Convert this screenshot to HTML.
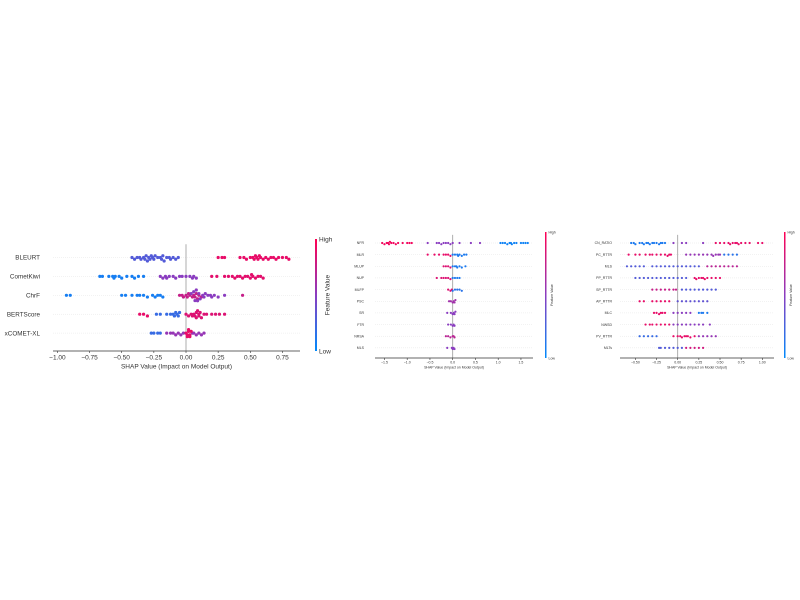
<!DOCTYPE html>
<html><head><meta charset="utf-8"><style>
html,body{margin:0;padding:0;background:#fff}
svg{display:block;font-family:"Liberation Sans","DejaVu Sans",sans-serif}
</style></head><body>
<svg id="chart" width="800" height="600" viewBox="0 0 800 600" xmlns="http://www.w3.org/2000/svg">
<defs><linearGradient id="cb" x1="0" y1="1" x2="0" y2="0"><stop offset="0" stop-color="#008afb"/><stop offset="0.5" stop-color="#8a3cc0"/><stop offset="1" stop-color="#ff0052"/></linearGradient></defs>
</svg>
<script>
// ---------- data ----------
const p1Features = ["BLEURT","CometKiwi","ChrF","BERTScore","xCOMET-XL"];
const p1Ticks = [-1.00,-0.75,-0.50,-0.25,0.00,0.25,0.50,0.75];
const p1Groups = [
 [{f:0.3,v:[-0.42,-0.4,-0.38,-0.36,-0.35,-0.33,-0.32,-0.31,-0.3,-0.29,-0.28,-0.27,-0.26,-0.25,-0.24,-0.22,-0.2,-0.19,-0.18,-0.17,-0.15,-0.13,-0.12,-0.1,-0.08,-0.06]},
  {f:0.9,v:[0.25,0.28,0.3,0.42,0.45,0.47,0.5,0.52,0.53,0.54,0.55,0.56,0.57,0.58,0.6,0.62,0.64,0.66,0.68,0.7,0.72,0.75,0.78,0.8]}],
 [{f:0.08,v:[-0.67,-0.65,-0.6,-0.57,-0.56,-0.55,-0.52,-0.5,-0.46,-0.42,-0.4,-0.37,-0.33]},
  {f:0.5,v:[-0.2,-0.18,-0.16,-0.15,-0.13,-0.1,-0.08,-0.05,-0.03,0,0.03,0.05,0.06,0.08]},
  {f:0.88,v:[0.2,0.24,0.3,0.33,0.36,0.38,0.4,0.42,0.44,0.46,0.48,0.5,0.51,0.52,0.54,0.56,0.58,0.6]}],
 [{f:0.08,v:[-0.93,-0.9,-0.5,-0.47,-0.42,-0.38,-0.36,-0.33,-0.3,-0.26,-0.24,-0.22,-0.2,-0.18]},
  {f:0.75,v:[-0.05,-0.03,-0.02,0,0.01,0.02,0.03,0.05,0.06,0.07,0.08,0.09,0.1,0.12,0.44]},
  {f:0.5,v:[0.04,0.06,0.07,0.08,0.09,0.1,0.11,0.13,0.14,0.15,0.17,0.19,0.2,0.22,0.25,0.3]}],
 [{f:0.9,v:[-0.36,-0.33,-0.3]},
  {f:0.2,v:[-0.23,-0.2,-0.15,-0.12,-0.1,-0.09,-0.08,-0.07,-0.06,-0.05]},
  {f:0.85,v:[0,0.02,0.04,0.05,0.06,0.07,0.08,0.08,0.09,0.1,0.1,0.11,0.12,0.14,0.16,0.2,0.23,0.26,0.3]}],
 [{f:0.2,v:[-0.27,-0.25,-0.22,-0.2]},
  {f:0.55,v:[-0.15,-0.12,-0.1,-0.08,-0.06,-0.04,-0.02,0.05,0.06,0.08,0.1,0.12,0.14]},
  {f:0.9,v:[0,0.01,0.02,0.03,0.04,0.01,0.02,0.03]}]
];
const p2Features = ["NFR","MLR","MLUP","NUP","MLFP","PSC","SR","FTR","NRSA","MLS"];
const p2Ticks = [-1.5,-1.0,-0.5,0.0,0.5,1.0,1.5];
const p2Groups = [
 [{f:0.95,v:[-1.55,-1.5,-1.45,-1.42,-1.4,-1.38,-1.35,-1.3,-1.25,-1.2,-1.1,-1.0,-0.95,-0.9]},
  {f:0.5,v:[-0.55,-0.35,-0.3,-0.25,-0.2,-0.15,-0.1,-0.05,0,0.15,0.4,0.6]},
  {f:0.05,v:[1.05,1.1,1.15,1.2,1.25,1.28,1.3,1.35,1.4,1.5,1.55,1.6,1.65]}],
 [{f:0.9,v:[-0.55,-0.4,-0.3,-0.2,-0.15,-0.1,-0.05]},{f:0.1,v:[0,0.05,0.1,0.12,0.15,0.2,0.25,0.3]}],
 [{f:0.85,v:[-0.2,-0.15,-0.1,-0.05]},{f:0.1,v:[0,0.05,0.08,0.1,0.15,0.2,0.28]}],
 [{f:0.85,v:[-0.35,-0.25,-0.2,-0.15,-0.1,-0.05]},{f:0.1,v:[0,0.05,0.1,0.15]}],
 [{f:0.85,v:[-0.1,-0.05,-0.02]},{f:0.15,v:[0,0.05,0.1,0.15,0.2]}],
 [{f:0.6,v:[-0.08,-0.04,0,0.02,0.04,0.06]}],
 [{f:0.5,v:[-0.12,-0.04,0,0.02,0.04,0.06]}],
 [{f:0.5,v:[-0.1,-0.04,0,0.02,0.04]}],
 [{f:0.7,v:[-0.15,-0.1,-0.05,0,0.02,0.04]}],
 [{f:0.5,v:[-0.12,-0.02,0,0.02,0.04]}]
];
const p3Features = ["CN_RATIO","PC_RTTR","MLS","PP_RTTR","SP_RTTR","AP_RTTR","MLC","NWSD","PV_RTTR","MLTs"];
const p3Ticks = [-0.50,-0.25,0.00,0.25,0.50,0.75,1.00];
const p3Groups = [
 [{f:0.1,v:[-0.55,-0.52,-0.5,-0.45,-0.42,-0.4,-0.37,-0.35,-0.33,-0.3,-0.28,-0.25,-0.22,-0.2,-0.18,-0.15]},
  {f:0.5,v:[-0.05,0.05,0.1,0.3]},
  {f:0.9,v:[0.45,0.5,0.55,0.6,0.62,0.65,0.68,0.7,0.72,0.75,0.8,0.85,0.95,1.0]}],
 [{f:0.9,v:[-0.58,-0.5,-0.45,-0.38,-0.33,-0.3,-0.25,-0.2,-0.15,-0.12,-0.1,-0.08]},
  {f:0.55,v:[0.1,0.15,0.2,0.25,0.3,0.35,0.4,0.42,0.45,0.48,0.5]},{f:0.15,v:[0.55,0.6,0.65,0.7]}],
 [{f:0.3,v:[-0.6,-0.55,-0.5,-0.45,-0.4,-0.3,-0.25,-0.2,-0.15,-0.1,-0.05,0,0.05,0.1,0.15,0.2,0.25]},
  {f:0.7,v:[0.35,0.4,0.45,0.5,0.55,0.6,0.65,0.7]}],
 [{f:0.3,v:[-0.5,-0.45,-0.4,-0.35,-0.3,-0.25,-0.2,-0.15,-0.1,-0.05,0,0.05,0.1]},
  {f:0.9,v:[0.2,0.22,0.25,0.28,0.3,0.32,0.35,0.4,0.45,0.5]}],
 [{f:0.75,v:[-0.3,-0.25,-0.2,-0.15,-0.1,-0.05,-0.02]},{f:0.3,v:[0.05,0.1,0.15,0.2,0.25,0.3,0.35,0.4,0.45]}],
 [{f:0.9,v:[-0.45,-0.4,-0.3,-0.25,-0.2,-0.15,-0.1]},{f:0.35,v:[0,0.05,0.1,0.15,0.2,0.25,0.3,0.35]}],
 [{f:0.9,v:[-0.28,-0.25,-0.22,-0.2,-0.18,-0.15]},{f:0.5,v:[-0.05,0,0.05,0.1,0.15]},{f:0.1,v:[0.25,0.28,0.3,0.35]}],
 [{f:0.9,v:[-0.38,-0.33,-0.3,-0.25,-0.2,-0.15,-0.1]},{f:0.5,v:[-0.05,0,0.05,0.1,0.15,0.2,0.25,0.3,0.38]}],
 [{f:0.2,v:[-0.45,-0.4,-0.35,-0.3,-0.25]},{f:0.9,v:[-0.05,0,0.03,0.05,0.08,0.1,0.12,0.15,0.2]},{f:0.55,v:[0.25,0.3,0.35,0.4,0.45]}],
 [{f:0.3,v:[-0.22,-0.2,-0.15,-0.1,-0.05,0,0.05]},{f:0.8,v:[0.1,0.15,0.2,0.25,0.3]}]
];
// ---------- drawing ----------
const NS="http://www.w3.org/2000/svg", svg=document.getElementById("chart");
function mk(tag,attrs,parent){const e=document.createElementNS(NS,tag);for(const k in attrs)e.setAttribute(k,attrs[k]);(parent||svg).appendChild(e);return e;}
function col(f){const a=[0,138,251],m=[138,60,192],b=[255,0,82];let c;
 if(f<0.5){const t=f/0.5;c=a.map((x,i)=>x+(m[i]-x)*t);}else{const t=(f-0.5)/0.5;c=m.map((x,i)=>x+(b[i]-x)*t);}
 return `rgb(${c.map(Math.round).join(",")})`;}
function panel(cfg){
 const g=mk("g",{});
 
 
 const xs=v=>cfg.x0+v*cfg.k;
 const ry=i=>cfg.y0+i*cfg.dy;
 cfg.features.forEach((n,i)=>{
  const gl=mk("line",{x1:cfg.ax1,x2:cfg.ax2,y1:ry(i),y2:ry(i),stroke:"#e4e4e4","stroke-width":0.5,"stroke-dasharray":"1,1"},g);
  
  
  const t=mk("text",{x:cfg.lx,y:ry(i)+cfg.fs*0.35,"font-size":cfg.fs,"text-anchor":"end",fill:"#333"},g);t.textContent=n;
  
  
 });
 const zl=mk("line",{x1:xs(0),x2:xs(0),y1:cfg.y0-cfg.dy*0.7,y2:cfg.axy,stroke:"#999","stroke-width":0.8},g);
 
 
 cfg.groups.forEach((row,i)=>{
  const bins={};
  row.forEach(grp=>grp.v.forEach(v=>{
   const b=Math.round(xs(v)/(cfg.r*cfg.bw));const n=bins[b]||0;bins[b]=n+1;
   let off=Math.ceil(n/2)*cfg.r*1.1*(n%2?1:-1);
   if(Math.abs(off)>cfg.maxOff)off=(off>0?1:-1)*cfg.maxOff;
   const c=mk("circle",{cx:xs(v),cy:ry(i)+off,r:cfg.r,fill:col(grp.f)},g);
   
   
  }));
 });
 const ax=mk("line",{x1:cfg.ax1,x2:cfg.ax2,y1:cfg.axy,y2:cfg.axy,stroke:"#333","stroke-width":0.7},g);
 
 
 cfg.ticks.forEach(v=>{
  mk("line",{x1:xs(v),x2:xs(v),y1:cfg.axy,y2:cfg.axy+2,stroke:"#333","stroke-width":0.6},g);
  const t=mk("text",{x:xs(v),y:cfg.axy+2+cfg.tfs,"font-size":cfg.tfs,"text-anchor":"middle",fill:"#333"},g);
  t.textContent=(v<0?"\u2212":"")+Math.abs(v).toFixed(cfg.dec);
  
  
 });
 const xl=mk("text",{x:(cfg.ax1+cfg.ax2)/2,y:cfg.axy+3+cfg.tfs*2.2,"font-size":cfg.tfs,"text-anchor":"middle",fill:"#333"},g);
 xl.textContent="SHAP Value (Impact on Model Output)";
 
 
 const cb=mk("rect",{x:cfg.cbx,y:cfg.cby1,width:cfg.cbw,height:cfg.cby2-cfg.cby1,fill:"url(#cb)"},g);
 
 
 const hi=mk("text",{x:cfg.cbx+cfg.cbw+2,y:cfg.cby1+cfg.tfs*0.4,"font-size":cfg.tfs,fill:"#333"},g);hi.textContent="High";
 
 
 const lo=mk("text",{x:cfg.cbx+cfg.cbw+2,y:cfg.cby2+cfg.tfs*0.4,"font-size":cfg.tfs,fill:"#333"},g);lo.textContent="Low";
 
 
 const cx=cfg.cbx+cfg.cbw+cfg.tfs*1.9, cy=(cfg.cby1+cfg.cby2)/2;
 const ft=mk("text",{x:cx,y:cy,"font-size":cfg.tfs,"text-anchor":"middle",fill:"#333",transform:`rotate(-90 ${cx} ${cy})`},g);
 ft.textContent="Feature Value";
 
 
}
panel({name:"panel-metrics",features:p1Features,groups:p1Groups,ticks:p1Ticks,dec:2,x0:186,k:128.6,y0:257.5,dy:18.9,
 ax1:53,ax2:300,axy:351,lx:40,fs:6.3,tfs:6.5,r:1.6,bw:2.6,maxOff:5.5,cbx:315,cbw:2,cby1:239,cby2:351});
panel({name:"panel-features-a",features:p2Features,groups:p2Groups,ticks:p2Ticks,dec:1,x0:452.7,k:45.5,y0:243,dy:11.65,
 ax1:375,ax2:533,axy:358,lx:364,fs:3.5,tfs:3.5,r:1.1,bw:2.6,maxOff:3.8,cbx:545,cbw:1.5,cby1:232,cby2:358});
panel({name:"panel-features-b",features:p3Features,groups:p3Groups,ticks:p3Ticks,dec:2,x0:677.7,k:84.6,y0:243,dy:11.65,
 ax1:620,ax2:774,axy:358,lx:612,fs:3.5,tfs:3.5,r:1.1,bw:2.6,maxOff:3.8,cbx:784,cbw:1.5,cby1:232,cby2:358});
</script>
</body></html>
